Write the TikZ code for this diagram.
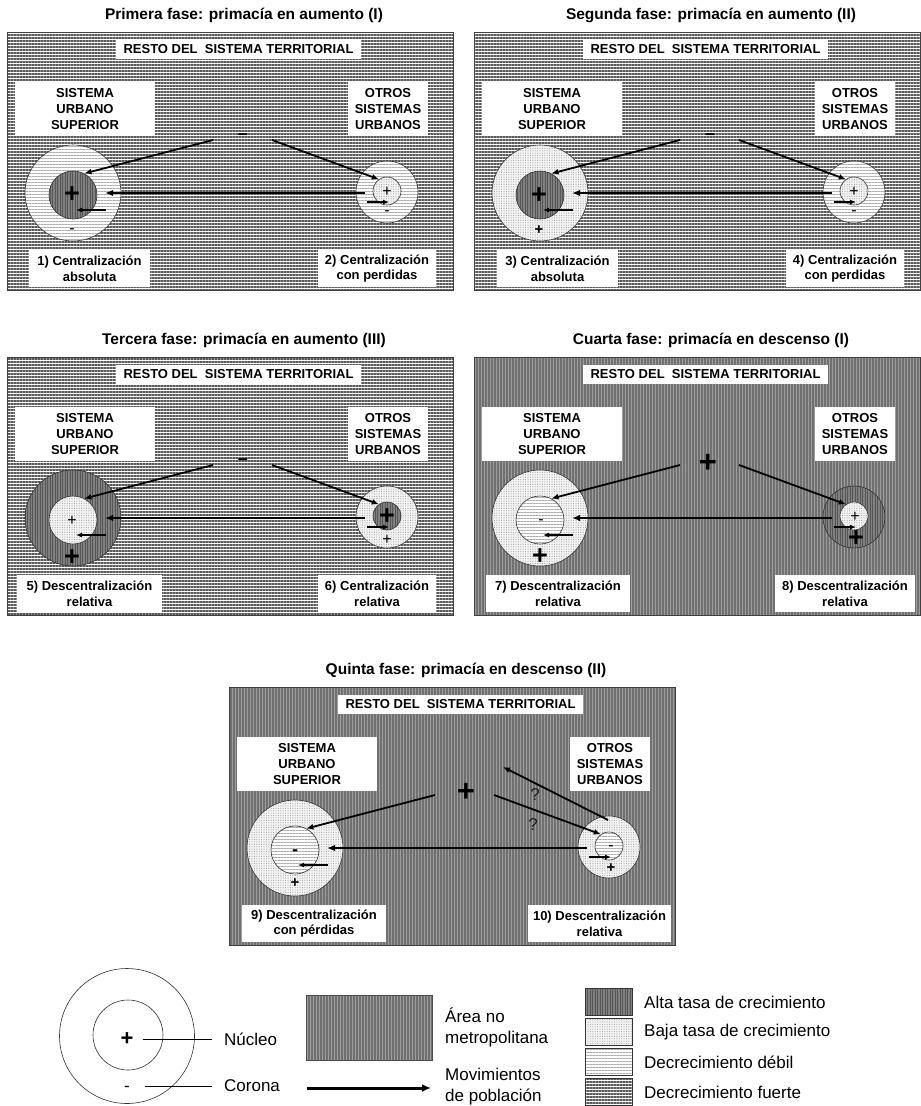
\documentclass[tikz,border=0pt]{standalone}
\usepackage{fontspec}
\setmainfont{Liberation Sans}
\usetikzlibrary{arrows.meta,patterns.meta}
\tikzset{
 fuerte/.style={preaction={fill=white},pattern={Lines[angle=0,distance=3pt,line width=1.5pt]},pattern color=black!65},
 debil/.style={preaction={fill=white},pattern={Lines[angle=0,distance=3pt,line width=0.9pt]},pattern color=black!32},
 baja/.style={preaction={fill=black!5},pattern={Dots[distance=2.4pt,radius=0.5pt]},pattern color=black!40},
 alta/.style={preaction={fill=black!50},pattern={Lines[angle=90,distance=2.5pt,line width=0.9pt]},pattern color=black!66},
 area/.style={preaction={fill=black!38},pattern={Lines[angle=90,distance=3pt,line width=1.2pt]},pattern color=black!56},
 pframe/.style={draw=black!75,line width=0.8pt,inner sep=0,anchor=north west,minimum width=446pt,minimum height=258pt},
 ttl/.style={font=\fontsize{15.5}{18}\selectfont\bfseries,inner sep=0},
 tbox/.style={fill=white,inner sep=0,align=center,font=\fontsize{13}{15.6}\selectfont\bfseries},
 ring/.style={circle,draw=black!80,line width=0.6pt,inner sep=0},
 sgnB/.style={inner sep=0,font=\fontsize{27}{27}\selectfont\bfseries},
 sgnT/.style={inner sep=0,font=\fontsize{31}{31}\selectfont\bfseries},
 sgnS/.style={inner sep=0,font=\fontsize{16}{16}\selectfont},
 sgnM/.style={inner sep=0,font=\fontsize{15}{15}\selectfont\bfseries},
 sgnD/.style={inner sep=0,font=\fontsize{18}{18}\selectfont\bfseries},
 qmark/.style={inner sep=0,text=black!88,font=\fontsize{17}{17}\selectfont},
 mv/.style={-{Latex[length=7pt,width=6pt]},line width=1.8pt},
 mvl/.style={-{Latex[length=8pt,width=6.5pt]},line width=2.2pt},
 mvs/.style={-{Latex[length=6pt,width=5pt]},line width=1.5pt},
 lt/.style={inner sep=0,anchor=west,align=left,font=\fontsize{17}{21}\selectfont},
 swatch/.style={draw=black!80,line width=0.6pt,inner sep=0,anchor=north west,minimum width=47pt,minimum height=27pt},
 leader/.style={line width=0.6pt},
}
\newcommand\panelbase[6]{%
 \node[ttl] (\pn-t) at (244,15) {#1};
 \node[#2,pframe] (\pn-f) at (7,32) {};
 \node[tbox,minimum width=245pt,minimum height=19pt] (\pn-r) at (238.5,49.5) {RESTO DEL~~SISTEMA TERRITORIAL};
 \node[tbox,minimum width=140pt,minimum height=54pt] (\pn-su) at (85,109) {SISTEMA\\URBANO\\SUPERIOR};
 \node[tbox,minimum width=80pt,minimum height=54pt] (\pn-ot) at (388,109) {OTROS\\SISTEMAS\\URBANOS};
 \node[ring,#3,minimum size=96pt] (\pn-oL) at (73,193) {};
 \node[ring,#4,minimum size=48pt] (\pn-iL) at (73,195) {};
 \node[ring,#5,minimum size=62pt] (\pn-oR) at (387,192) {};
 \node[ring,#6,minimum size=28pt] (\pn-iR) at (387,191) {};
}
\newcommand\arrowsbase{%
 \coordinate (\pn-a1) at (213,140);
 \coordinate (\pn-a2) at (272,140);
 \coordinate (\pn-a3) at (365,193);
 \coordinate (\pn-a4) at (105,193);
 \coordinate (\pn-a5) at (106,210);
 \coordinate (\pn-a6) at (76,210);
 \coordinate (\pn-a7) at (367,202);
 \coordinate (\pn-a8) at (389,202);
 \draw[mv] (\pn-a1) -- (\pn-iL.62);
 \draw[mv] (\pn-a2) -- (\pn-iR.125);
 \draw[mvl] (\pn-a3) -- (\pn-a4);
 \draw[mvs] (\pn-a5) -- (\pn-a6);
 \draw[mvs] (\pn-a7) -- (\pn-a8);
}
\begin{document}
\begin{tikzpicture}[x=1pt,y=-1pt]
\useasboundingbox[fill=white] (0,0) rectangle (921,1106);
% ---------- Panel 1
\begin{scope}
\def\pn{p1}
\panelbase{Primera fase: primacía en aumento (I)}{fuerte}{debil}{alta}{debil}{baja}
\arrowsbase
\node[sgnD] (\pn-s1) at (243,137) {–};
\node[sgnB] (\pn-s2) at (72,195) {+};
\node[sgnS] (\pn-s3) at (72,231) {-};
\node[sgnS] (\pn-s4) at (387,192) {+};
\node[sgnS] (\pn-s5) at (387,213) {-};
\node[tbox,minimum width=121pt,minimum height=37pt] (\pn-l1) at (89.5,268.5) {1) Centralización\\absoluta};
\node[tbox,minimum width=118pt,minimum height=37pt] (\pn-l2) at (377,268.5) {2) Centralización\\con perdidas};
\end{scope}
% ---------- Panel 2
\begin{scope}[shift={(467,0)}]
\def\pn{p2}
\panelbase{Segunda fase: primacía en aumento (II)}{fuerte}{baja}{alta}{debil}{baja}
\arrowsbase
\node[sgnD] (\pn-s1) at (243,137) {–};
\node[sgnB] (\pn-s2) at (72,196) {+};
\node[sgnM] (\pn-s3) at (72,230) {+};
\node[sgnS] (\pn-s4) at (387,192) {+};
\node[sgnS] (\pn-s5) at (387,213) {-};
\node[tbox,minimum width=121pt,minimum height=37pt] (\pn-l1) at (90.5,268.5) {3) Centralización\\absoluta};
\node[tbox,minimum width=118pt,minimum height=37pt] (\pn-l2) at (378,268.5) {4) Centralización\\con perdidas};
\end{scope}
% ---------- Panel 3
\begin{scope}[shift={(0,325)}]
\def\pn{p3}
\panelbase{Tercera fase: primacía en aumento (III)}{fuerte}{alta}{baja}{baja}{alta}
\arrowsbase
\node[sgnD] (\pn-s1) at (243,137) {–};
\node[sgnS] (\pn-s2) at (72,196) {+};
\node[sgnB] (\pn-s3) at (72,233) {+};
\node[sgnB] (\pn-s4) at (387,192) {+};
\node[sgnS] (\pn-s5) at (387,215) {+};
\node[tbox,minimum width=145pt,minimum height=37pt] (\pn-l1) at (89.5,268.5) {5) Descentralización\\relativa};
\node[tbox,minimum width=118pt,minimum height=37pt] (\pn-l2) at (377,268.5) {6) Centralización\\relativa};
\end{scope}
% ---------- Panel 4
\begin{scope}[shift={(467,325)}]
\def\pn{p4}
\panelbase{Cuarta fase: primacía en descenso (I)}{area}{baja}{debil}{alta}{baja}
\arrowsbase
\node[sgnT] (\pn-s1) at (241,138) {+};
\node[sgnS] (\pn-s2) at (74,197) {-};
\node[sgnB] (\pn-s3) at (73,232) {+};
\node[sgnS] (\pn-s4) at (388,192) {+};
\node[sgnB] (\pn-s5) at (389,214) {+};
\node[tbox,minimum width=144pt,minimum height=37pt] (\pn-l1) at (91,268.5) {7) Descentralización\\relativa};
\node[tbox,minimum width=140pt,minimum height=37pt] (\pn-l2) at (378,268.5) {8) Descentralización\\relativa};
\end{scope}
% ---------- Panel 5
\begin{scope}[shift={(222,655)}]
\def\pn{p5}
\panelbase{Quinta fase: primacía en descenso (II)}{area}{baja}{debil}{baja}{debil}
\arrowsbase
\coordinate (\pn-a9) at (386,165);
\coordinate (\pn-a10) at (281,112);
\draw[mv] (\pn-a9) -- (\pn-a10);
\node[qmark] (\pn-q1) at (313,140) {?};
\node[qmark] (\pn-q2) at (311,170) {?};
\node[sgnT] (\pn-s1) at (244,137) {+};
\node[sgnD] (\pn-s2) at (73,198) {-};
\node[sgnM] (\pn-s3) at (73,228) {+};
\node[sgnS] (\pn-s4) at (389,193) {-};
\node[sgnM] (\pn-s5) at (389,213) {+};
\node[tbox,minimum width=144pt,minimum height=37pt] (\pn-l1) at (92,268.5) {9) Descentralización\\con pérdidas};
\node[tbox,minimum width=143pt,minimum height=37pt] (\pn-l2) at (377.5,268.5) {10) Descentralización\\relativa};
\end{scope}
% ---------- Legend
\node[ring,fill=white,minimum size=135pt] (lgO) at (127,1036) {};
\node[ring,fill=white,minimum size=70pt] (lgI) at (128,1035) {};
\node[inner sep=0,font=\fontsize{22}{22}\selectfont\bfseries] (lgP) at (127,1039) {+};
\node[inner sep=0,font=\fontsize{17}{17}\selectfont] (lgC) at (127,1089) {-};
\node[lt] (lgN) at (224,1039) {Núcleo};
\node[lt] (lgCo) at (224,1086) {Corona};
\draw[leader] ([xshift=9pt]lgP.east) -- ([xshift=-12pt]lgN.west);
\draw[leader] ([xshift=15pt]lgC.east |- lgCo.west) -- ([xshift=-12pt]lgCo.west);
\node[area,draw=black!70,line width=0.6pt,inner sep=0,anchor=north west,minimum width=126pt,minimum height=65pt] (lgA) at (306,995) {};
\node[lt] (lgAt) at (445,1027.5) {Área no\\metropolitana};
\coordinate (lgM1) at (307,1088);
\coordinate (lgM2) at (431,1088);
\draw[-{Latex[length=9pt,width=8pt]},line width=3pt] (lgM1) -- (lgM2);
\node[lt] (lgMt) at (445,1087) {Movimientos\\de población};
\node[swatch,alta] (lgS1) at (585,988) {};
\node[swatch,baja] (lgS2) at (585,1018) {};
\node[swatch,debil] (lgS3) at (585,1048) {};
\node[swatch,fuerte] (lgS4) at (585,1078) {};
\node[lt] (lgT1) at (644,1002) {Alta tasa de crecimiento};
\node[lt] (lgT2) at (644,1032) {Baja tasa de crecimiento};
\node[lt] (lgT3) at (644,1062) {Decrecimiento débil};
\node[lt] (lgT4) at (644,1092) {Decrecimiento fuerte};
\end{tikzpicture}
\end{document}
